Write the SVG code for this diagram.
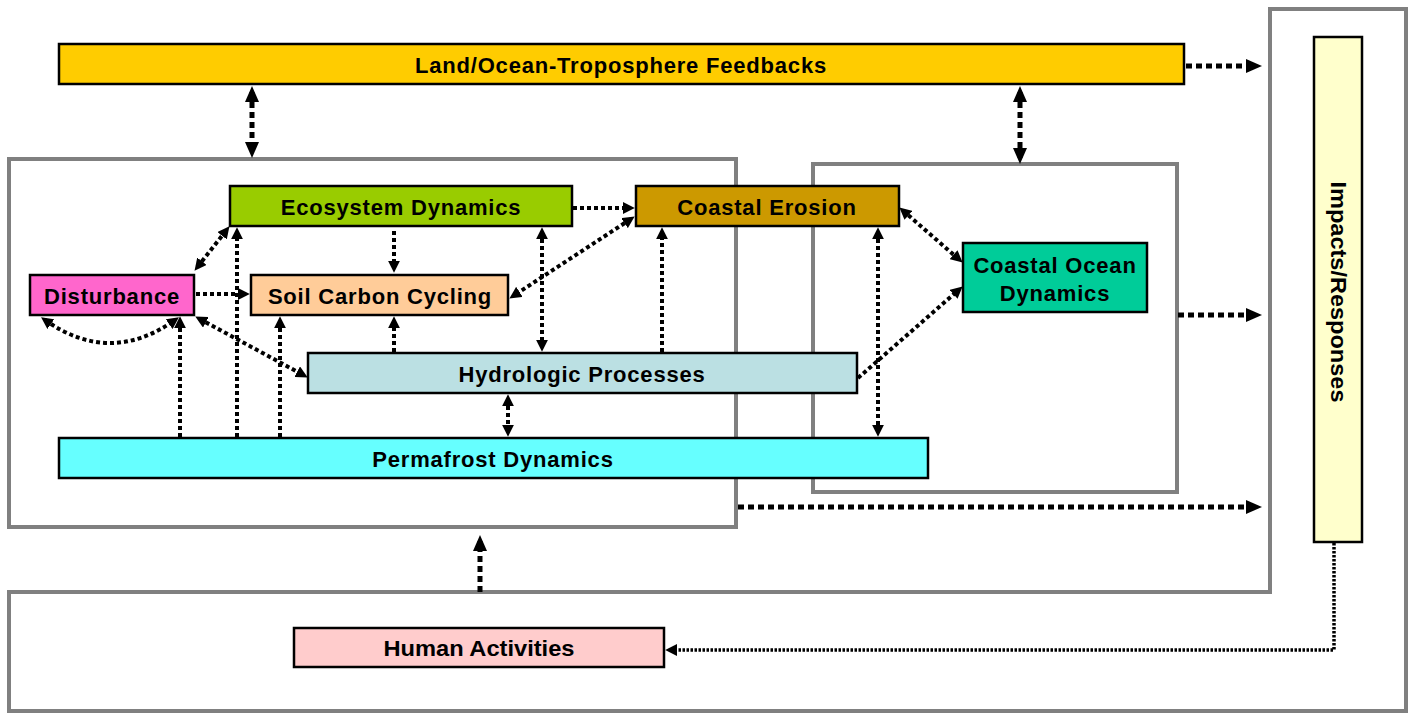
<svg xmlns="http://www.w3.org/2000/svg" width="1413" height="713" viewBox="0 0 1413 713">
<style>
.frame{fill:none;stroke:#808080;stroke-width:4}
.box{stroke:#000;stroke-width:2.5}
.lbl{font-family:"Liberation Sans",Arial,sans-serif;font-weight:bold;font-size:22px;letter-spacing:0.8px;text-anchor:middle;fill:#000}
.nar{font-family:"Liberation Sans Narrow","Liberation Sans",Arial,sans-serif;font-weight:bold;font-size:22px;text-anchor:middle;fill:#000}
.c{fill:none;stroke:#000;stroke-width:4;stroke-dasharray:4 3}
.cb{fill:none;stroke:#000;stroke-width:5;stroke-dasharray:6 4}
.cf{fill:none;stroke:#000;stroke-width:3.5;stroke-dasharray:2.5 1.5}
</style>
<defs>
<marker id="a" viewBox="0 0 10 10" markerWidth="12" markerHeight="12" markerUnits="userSpaceOnUse" refX="6" refY="5" orient="auto-start-reverse"><path d="M0,0 L10,5 L0,10 z" fill="#000"/></marker>
<marker id="b" viewBox="0 0 16 14" markerWidth="16" markerHeight="14" markerUnits="userSpaceOnUse" refX="10" refY="7" orient="auto-start-reverse"><path d="M0,0 L16,7 L0,14 z" fill="#000"/></marker>
</defs>
<rect width="1413" height="713" fill="#fff"/>
<g id="frames">
<rect class="frame" x="9" y="159" width="727" height="368"/>
<rect class="frame" x="813" y="164" width="364" height="328"/>
<path class="frame" d="M1270 9 H1406 V711 H9 V592 H1270 Z"/>
</g>
<g id="connectors">
<path class="cb" d="M252 92 V152" marker-start="url(#b)" marker-end="url(#b)"/>
<path class="cb" d="M1020 92 V158" marker-start="url(#b)" marker-end="url(#b)"/>
<path class="cb" d="M1186 66 H1256" marker-end="url(#b)"/>
<path class="cb" d="M1178 315 H1256" marker-end="url(#b)"/>
<path class="cb" d="M738 507 H1256" marker-end="url(#b)"/>
<path class="cb" d="M480 592 V541" marker-end="url(#b)"/>
<path class="cf" d="M1334 543 V650 H670" marker-end="url(#a)"/>
<path class="c" d="M573 208 H630" marker-end="url(#a)"/>
<path class="c" d="M394 231 V268" marker-end="url(#a)"/>
<path class="c" d="M197.5 266.9 L226.5 230.1" marker-start="url(#a)" marker-end="url(#a)"/>
<path class="c" d="M196 294 H245" marker-end="url(#a)"/>
<path class="c" d="M45 320 Q110 366 175 320" marker-start="url(#a)" marker-end="url(#a)"/>
<path class="c" d="M180 437 V321" marker-end="url(#a)"/>
<path class="c" d="M237 437 V232" marker-end="url(#a)"/>
<path class="c" d="M280 437 V321" marker-end="url(#a)"/>
<path class="c" d="M199.5 318.9 L303.5 375.1" marker-start="url(#a)" marker-end="url(#a)"/>
<path class="c" d="M394 352 V321" marker-end="url(#a)"/>
<path class="c" d="M542 232 V347" marker-start="url(#a)" marker-end="url(#a)"/>
<path class="c" d="M630.6 219.2 L513.4 295.8" marker-start="url(#a)" marker-end="url(#a)"/>
<path class="c" d="M662 352 V232" marker-end="url(#a)"/>
<path class="c" d="M903 210.6 L959 259.4" marker-start="url(#a)" marker-end="url(#a)"/>
<path class="c" d="M878 232 V432" marker-start="url(#a)" marker-end="url(#a)"/>
<path class="c" d="M858 378 L959 289.6" marker-end="url(#a)"/>
<path class="c" d="M508 399 V432" marker-start="url(#a)" marker-end="url(#a)"/>
</g>
<g id="feedbacks"><rect class="box" x="59" y="44" width="1125" height="40" fill="#FFCC00"/><text class="lbl" x="621" y="73">Land/Ocean-Troposphere Feedbacks</text></g>
<g id="ecosystem"><rect class="box" x="230" y="186" width="342" height="40" fill="#99CC00"/><text class="lbl" x="401" y="215">Ecosystem Dynamics</text></g>
<g id="erosion"><rect class="box" x="636" y="186" width="263" height="40" fill="#CC9900"/><text class="lbl" x="767" y="215">Coastal Erosion</text></g>
<g id="disturbance"><rect class="box" x="30" y="275" width="164" height="40" fill="#FF66CC"/><text class="lbl" x="112" y="304">Disturbance</text></g>
<g id="soil"><rect class="box" x="251" y="275" width="257" height="40" fill="#FFCC99"/><text class="lbl" x="380" y="304">Soil Carbon Cycling</text></g>
<g id="ocean"><rect class="box" x="963" y="243" width="184" height="69" fill="#00CC99"/><text class="lbl" x="1055" y="273">Coastal Ocean</text><text class="lbl" x="1055" y="301">Dynamics</text></g>
<g id="hydro"><rect class="box" x="308" y="353" width="549" height="40" fill="#BBE0E3"/><text class="lbl" x="582" y="382">Hydrologic Processes</text></g>
<g id="permafrost"><rect class="box" x="59" y="438" width="869" height="40" fill="#66FFFF"/><text class="lbl" x="493" y="467">Permafrost Dynamics</text></g>
<g id="human"><rect class="box" x="294" y="628" width="370" height="39" fill="#FFCCCC"/><text class="nar" x="479" y="656" textLength="191" lengthAdjust="spacingAndGlyphs">Human Activities</text></g>
<g id="impacts"><rect class="box" x="1314" y="37" width="48" height="505" fill="#FFFFCC"/><text class="nar" x="0" y="0" font-size="21" transform="translate(1331 292) rotate(90)" textLength="221" lengthAdjust="spacingAndGlyphs">Impacts/Responses</text></g>
</svg>
